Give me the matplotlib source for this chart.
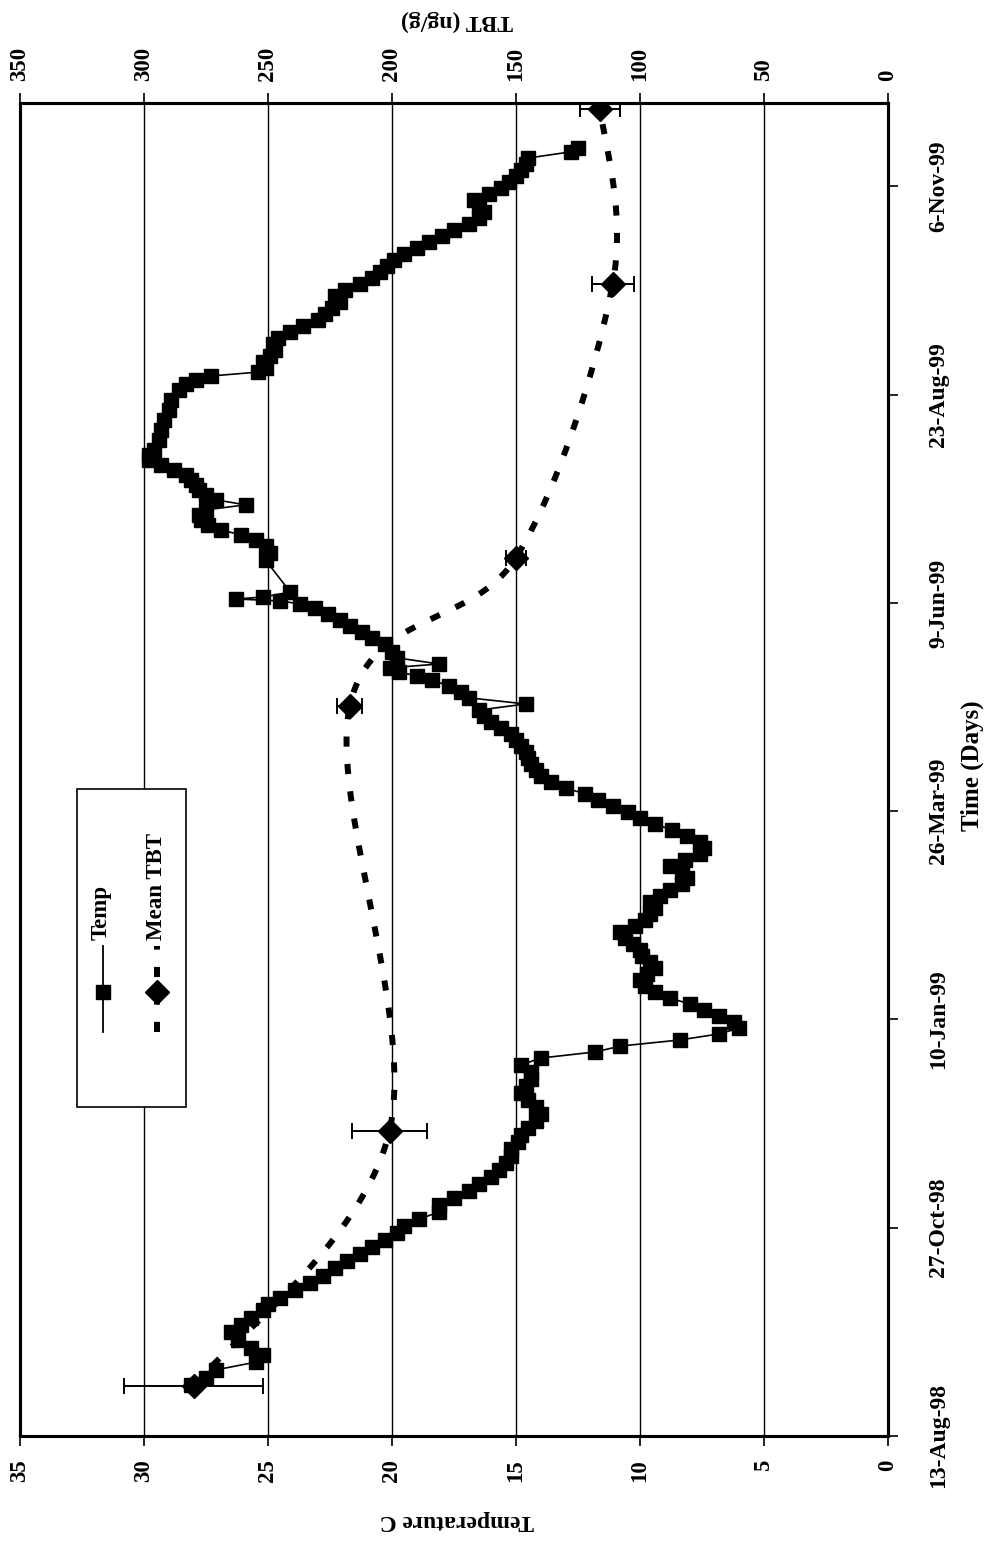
import matplotlib
matplotlib.use('Agg')
import matplotlib.pyplot as plt
from matplotlib.lines import Line2D
from matplotlib.patches import Rectangle
import numpy as np

plt.rcParams['font.family'] = ['Liberation Serif', 'DejaVu Serif']
plt.rcParams['font.weight'] = 'bold'

# ---------------- data ----------------
# time: days since 13-Aug-98
date_ticks = [0, 75, 150, 225, 300, 375, 450]
date_labels = ['13-Aug-98', '27-Oct-98', '10-Jan-99', '26-Mar-99',
               '9-Jun-99', '23-Aug-99', '6-Nov-99']
temp_ticks = [0, 5, 10, 15, 20, 25, 30, 35]
tbt_ticks = [0, 50, 100, 150, 200, 250, 300, 350]

temp_day = [
    18.4, 20.9, 23.8, 26.6, 29.2, 31.7, 34.6, 37.5, 40.0, 42.5,
    45.4, 47.5, 49.7, 52.6, 55.1, 57.6, 60.5, 63.0, 65.5, 68.1,
    70.6, 73.1, 75.6, 78.1, 80.7, 83.2, 85.7, 88.2, 90.7, 93.3,
    95.8, 98.3, 100.8, 103.3, 105.9, 108.4, 110.9, 113.4, 116.0, 118.5,
    121.0, 123.5, 126.0, 128.6, 131.1, 133.6, 136.1, 138.3, 140.4, 142.6,
    144.8, 146.9, 149.1, 151.2, 153.4, 155.6, 157.7, 159.9, 162.0, 164.2,
    166.4, 168.5, 170.7, 172.8, 175.0, 177.2, 179.3, 181.5, 183.7, 185.8,
    188.0, 190.1, 192.3, 194.5, 196.6, 198.8, 200.9, 203.1, 205.3, 207.4,
    209.6, 211.7, 213.9, 216.1, 218.2, 220.4, 222.5, 224.7, 226.9, 229.0,
    231.2, 233.3, 235.5, 237.7, 239.8, 242.0, 244.1, 246.3, 248.5, 250.6,
    252.8, 255.0, 257.1, 259.3, 261.4, 263.6, 265.8, 267.9, 270.1, 272.2,
    273.7, 275.1, 276.6, 278.0, 280.2, 282.3, 285.2, 287.4, 289.5, 291.7,
    293.8, 296.0, 298.2, 299.6, 300.7, 301.4, 302.1, 303.9, 315.4, 318.0,
    320.5, 322.6, 324.5, 326.3, 328.0, 329.9, 331.7, 333.5, 335.3, 337.1,
    338.9, 340.7, 342.5, 344.3, 346.1, 347.9, 349.7, 351.5, 353.3, 355.1,
    358.7, 362.3, 365.9, 369.5, 373.1, 376.7, 378.8, 380.3, 381.7, 383.1,
    384.6, 386.7, 388.9, 391.1, 393.2, 395.4, 397.6, 399.7, 401.9, 404.0,
    406.2, 408.4, 410.5, 412.7, 414.8, 417.0, 419.2, 421.3, 423.5, 425.6,
    427.8, 430.0, 432.1, 434.3, 436.4, 438.6, 440.8, 442.9, 445.1, 447.2,
    449.4, 451.6, 453.7, 455.9, 458.1, 460.2, 462.4, 463.8]
temp_c = [
    28.1, 27.5, 27.1, 25.5, 25.2, 25.7, 26.2, 26.5, 26.1, 25.7,
    25.2, 25.0, 24.5, 23.9, 23.3, 22.8, 22.3, 21.8, 21.3, 20.8,
    20.3, 19.8, 19.5, 18.9, 18.1, 18.1, 17.5, 16.9, 16.5, 16.0,
    15.7, 15.4, 15.2, 15.2, 14.9, 14.8, 14.5, 14.2, 14.0, 14.2,
    14.5, 14.8, 14.6, 14.4, 14.4, 14.8, 14.0, 11.8, 10.8, 8.4,
    6.8, 6.0, 6.2, 6.8, 7.4, 8.0, 8.8, 9.4, 9.8, 10.0,
    9.7, 9.4, 9.6, 9.9, 10.0, 10.3, 10.6, 10.8, 10.2, 9.8,
    9.6, 9.4, 9.6, 9.2, 8.8, 8.3, 8.1, 8.3, 8.8, 8.2,
    7.6, 7.4, 7.6, 8.1, 8.7, 9.4, 10.0, 10.5, 11.1, 11.7,
    12.2, 13.0, 13.6, 14.0, 14.2, 14.4, 14.5, 14.6, 14.8, 15.0,
    15.2, 15.6, 16.0, 16.3, 16.5, 14.6, 16.9, 17.2, 17.7, 18.4,
    19.0, 19.7, 20.1, 18.1, 19.8, 20.0, 20.3, 20.8, 21.2, 21.7,
    22.1, 22.6, 23.1, 23.7, 24.5, 26.3, 25.2, 24.1, 25.1, 24.9,
    25.1, 25.5, 26.1, 26.9, 27.4, 27.7, 27.8, 27.5, 25.9, 27.1,
    27.5, 27.8, 27.9, 28.1, 28.3, 28.8, 29.3, 29.8, 29.8, 29.6,
    29.4, 29.3, 29.2, 29.0, 28.9, 28.6, 28.3, 27.9, 27.3, 25.4,
    25.1, 25.2, 24.9, 24.7, 24.8, 24.6, 24.1, 23.6, 23.0, 22.7,
    22.4, 22.1, 22.3, 21.9, 21.3, 20.8, 20.5, 20.2, 19.9, 19.5,
    19.0, 18.5, 18.0, 17.5, 16.9, 16.5, 16.3, 16.5, 16.7, 16.1,
    15.6, 15.3, 15.0, 14.8, 14.6, 14.5, 12.8, 12.5]

tbt_day = [18.0, 109.9, 263.0, 316.3, 415.0, 478.0]
tbt_mean = [280, 201, 217, 150, 111, 116]
tbt_err = [28, 15, 5, 4, 8.5, 8]


def excel_smooth(x, y, n=40):
    pts = np.column_stack([x, y]).astype(float)
    out = []
    for i in range(len(pts) - 1):
        p0 = pts[max(i - 1, 0)]
        p1 = pts[i]
        p2 = pts[i + 1]
        p3 = pts[min(i + 2, len(pts) - 1)]
        c1 = p1 + (p2 - p0) / 6.0
        c2 = p2 - (p3 - p1) / 6.0
        t = np.linspace(0, 1, n)[:, None]
        seg = (1 - t) ** 3 * p1 + 3 * (1 - t) ** 2 * t * c1 + 3 * (1 - t) * t ** 2 * c2 + t ** 3 * p2
        out.append(seg if i == 0 else seg[1:])
    return np.vstack(out)


W, H = 997, 1543
fig = plt.figure(figsize=(W / 100, H / 100), dpi=100)

def fx(x):
    return x / W

def fy(y):
    return 1 - y / H

L, R, T, B = 20, 888, 103, 1436
ax = fig.add_axes([fx(L), fy(B), (R - L) / W, (B - T) / H])
ax.set_xlim(35, 0)
ax.set_ylim(0, 480)

# temperature series
ax.plot(temp_c, temp_day, color='black', lw=1.2, marker='s', ms=10,
        mfc='black', mec='black', zorder=3)

ax.set_xticks(temp_ticks)
ax.set_xticklabels([str(t) for t in temp_ticks], rotation=90,
                   fontsize=16.5, fontweight='bold')
ax.tick_params(axis='x', direction='out', length=7, width=1.2, pad=10)
ax.xaxis.grid(True, color='black', lw=1.0)
ax.set_axisbelow(True)

ax.yaxis.tick_right()
ax.set_yticks(date_ticks)
ax.set_yticklabels(date_labels, rotation=90, va='center',
                   fontsize=17, fontweight='bold')
ax.tick_params(axis='y', direction='out', length=7, width=1.2, pad=22)

for s in ax.spines.values():
    s.set_linewidth(2.2)

# TBT on secondary (top) axis
ax2 = ax.twiny()
ax2.set_xlim(350, 0)
ax2.set_ylim(0, 480)
sm = excel_smooth(tbt_mean, tbt_day)
ax2.plot(sm[:, 0], sm[:, 1], color='black', lw=4.3, dashes=(1.7, 2.9),
         dash_capstyle='butt', zorder=4)
ax2.errorbar(tbt_mean, tbt_day, xerr=tbt_err, fmt='none', ecolor='black',
             elinewidth=1.4, capsize=6, capthick=1.4, zorder=5)
ax2.plot(tbt_mean, tbt_day, ls='none', marker='D', ms=12, mfc='black',
         mec='black', zorder=6)
ax2.set_xticks(tbt_ticks)
ax2.set_xticklabels([str(t) for t in tbt_ticks], rotation=90,
                    fontsize=16.5, fontweight='bold')
ax2.tick_params(axis='x', direction='out', length=7, width=1.2, pad=9)
for s in ax2.spines.values():
    s.set_linewidth(2.2)

# axis titles (rotated, as in the reference)
fig.text(fx(457), fy(1521), 'Temperature C', rotation=180, ha='center',
         va='center', fontsize=17, fontweight='bold')
fig.text(fx(457), fy(21), 'TBT (ng/g)', rotation=180, ha='center',
         va='center', fontsize=17, fontweight='bold')
fig.text(fx(972), fy(766), 'Time (Days)', rotation=90, ha='center',
         va='center', fontsize=18, fontweight='bold')

# legend (rotated)
fig.patches.append(Rectangle((fx(77), fy(1107)), (186 - 77) / W, (1107 - 789) / H,
                             transform=fig.transFigure, fill=True, fc='white',
                             ec='black', lw=1.2, zorder=10))
fig.lines.append(Line2D([fx(103), fx(103)], [fy(1032), fy(946)], color='black',
                        lw=1.3, transform=fig.transFigure, zorder=11))
fig.lines.append(Line2D([fx(103)], [fy(992)], marker='s', ms=10, color='black',
                        transform=fig.transFigure, zorder=12))
fig.lines.append(Line2D([fx(157), fx(157)], [fy(1032), fy(946)], color='black',
                        lw=4.3, dashes=(1.7, 2.9), transform=fig.transFigure, zorder=11))
fig.lines.append(Line2D([fx(157)], [fy(992)], marker='D', ms=12, color='black',
                        transform=fig.transFigure, zorder=12))
fig.text(fx(101), fy(940), 'Temp', rotation=90, ha='center', va='bottom',
         fontsize=16.5, fontweight='bold', zorder=12)
fig.text(fx(157), fy(940), 'Mean TBT', rotation=90, ha='center', va='bottom',
         fontsize=16.5, fontweight='bold', zorder=12)

fig.savefig('out.png', dpi=100)
